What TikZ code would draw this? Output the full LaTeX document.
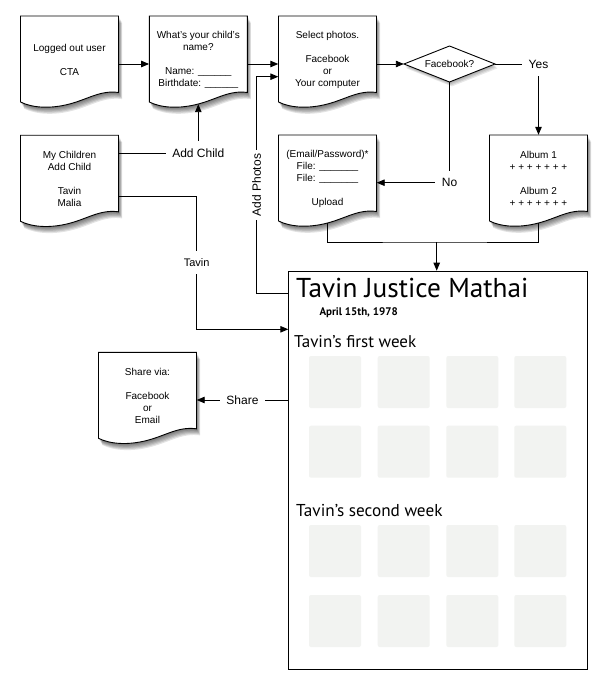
\documentclass[tikz,border=0pt]{standalone}
\usepackage{fontspec}
\setmainfont{Liberation Sans}
\newfontfamily\myriad{PT Sans}
\usetikzlibrary{arrows.meta,calc}
\definecolor{sqgray}{RGB}{242,243,241}
\newcommand{\docpath}[2]{(#1,#2) -- ({#1+98},#2) -- ({#1+98},{#2+76.5}) .. controls ({#1+80},{#2+74}) and ({#1+68},{#2+83}) .. ({#1+49},{#2+88}) .. controls ({#1+30},{#2+93}) and ({#1+12},{#2+92}) .. (#1,{#2+86}) -- cycle}
\newcommand{\docshape}[2]{%
  \foreach \s in {1,...,6}{\fill[black,opacity=0.11,shift={(0.6*\s,1.1*\s)}] \docpath{#1}{#2};}
  \filldraw[fill=white,draw=black,line width=0.9pt] \docpath{#1}{#2};}
\tikzset{
  docn/.style={minimum width=98pt, minimum height=88pt, inner sep=0pt, align=center, font=\fontsize{10}{12}\selectfont},
  conn/.style={line width=0.9pt, draw=black},
  arr/.style={conn, -{Triangle[length=8pt,width=6.5pt]}},
  lbl/.style={fill=white, font=\fontsize{12}{14}\selectfont, inner xsep=6.5pt, inner ysep=7.5pt},
}
\begin{document}
\begin{tikzpicture}[x=1pt,y=-1pt]
\useasboundingbox (0,0) rectangle (607,679);
\fill[white] (0,0) rectangle (607,679);

% document shapes
\docshape{20.5}{16}
\docshape{149.3}{16}
\docshape{278.5}{16}
\docshape{20.5}{135.3}
\docshape{278.5}{135}
\docshape{489.5}{135}
\docshape{98.5}{352.3}

% diamond
\foreach \s in {1,...,4}{\fill[black,opacity=0.09,shift={(0.6*\s,1.1*\s)}] (404,64) -- (449.5,46) -- (495,64) -- (449.5,82) -- cycle;}
\filldraw[fill=white,draw=black,line width=0.9pt] (404,64) -- (449.5,46) -- (495,64) -- (449.5,82) -- cycle;
\node[minimum width=91pt, minimum height=36pt, inner sep=0pt, font=\fontsize{10}{12}\selectfont] (dia) at (449.5,64) {Facebook?};

\node[docn] (b1) at (69.5,60) {Logged out user\\[12pt]CTA};
\node[docn] (b2) at (198.3,60) {What's your child's\\name?\\[12pt]Name: \_\_\_\_\_\_\\Birthdate: \_\_\_\_\_\_};
\node[docn] (b3) at (327.5,60) {Select photos.\\[12pt]Facebook\\or\\Your computer};
\node[docn] (b4) at (69.5,179.3) {My Children\\Add Child\\[12pt]Tavin\\Malia};
\node[docn] (b5) at (327.5,179) {(Email/Password)*\\File: \_\_\_\_\_\_\_\\File: \_\_\_\_\_\_\_\\[12pt]Upload};
\node[docn] (b6) at (538.5,179) {Album 1\\+ + + + + + +\\[12pt]Album 2\\+ + + + + + +};
\node[docn] (b7) at (147.5,396.3) {Share via:\\[12pt]Facebook\\or\\Email};

% big page
\node[draw, line width=0.8pt, minimum width=299pt, minimum height=398.3pt, inner sep=0pt, anchor=north west] (big) at (288.3,270.7) {};
\foreach \x in {309,377.7,446.3,514.3}{
  \foreach \y in {356,425.7,525,595}{
    \fill[sqgray, rounded corners=2pt] (\x,\y) rectangle ++(52,52);
  }
}
\node[anchor=base west, inner sep=0pt, font=\myriad\fontsize{27.3}{30}\selectfont] (title) at (296,297.3) {Tavin Justice Mathai};
\node[anchor=base west, inner sep=0pt, font=\myriad\bfseries\fontsize{11}{13}\selectfont] (date) at (319.3,315) {April 15th, 1978};
\node[anchor=base west, inner sep=0pt, font=\myriad\fontsize{17}{20}\selectfont] (wk1) at (294,347.3) {Tavin’s first week};
\node[anchor=base west, inner sep=0pt, font=\myriad\fontsize{17.2}{20}\selectfont] (wk2) at (296,516) {Tavin’s second week};

% connectors
\draw[arr] ($(b1.east)+(0,4)$) -- ($(b2.west)+(0,4)$);
\draw[arr] ($(b2.east)+(0,4)$) -- ($(b3.west)+(0,4)$);
\draw[arr] ($(b3.east)+(0,4)$) -- (dia.west);
\draw[arr] (dia.east) -| node[lbl, pos=0.5] {Yes} (b6.north);
\draw[arr] (dia.south) |- node[lbl, pos=0.5] {No} ($(b5.east)+(0,3.7)$);
\coordinate (m) at (436.7,242);
\draw[conn] (b5.south) |- (m) -| (b6.south);
\draw[arr] (m) -- (m |- big.north);
\draw[arr] ($(b4.east)+(0,-26)$) -| node[lbl, pos=0.5] {Add Child} (b2.south);
\coordinate (tv1) at (196.7,196);
\coordinate (tv2) at (196.7,329.3);
\draw[arr] (b4.east |- tv1) -- (tv1) -- node[lbl, font=\fontsize{11}{13}\selectfont] {Tavin} (tv2) -- (tv2 -| big.west);
\coordinate (ap1) at (256.7,293.3);
\coordinate (ap2) at (256.7,76.7);
\draw[arr] (big.west |- ap1) -- (ap1) -- node[lbl, rotate=90, inner xsep=4pt, inner ysep=3pt] {Add Photos} (ap2) -- (ap2 -| b3.west);
\coordinate (sh) at (250,400);
\draw[arr] (big.west |- sh) -- node[lbl] {Share} (b7.east |- sh);
\end{tikzpicture}
\end{document}
